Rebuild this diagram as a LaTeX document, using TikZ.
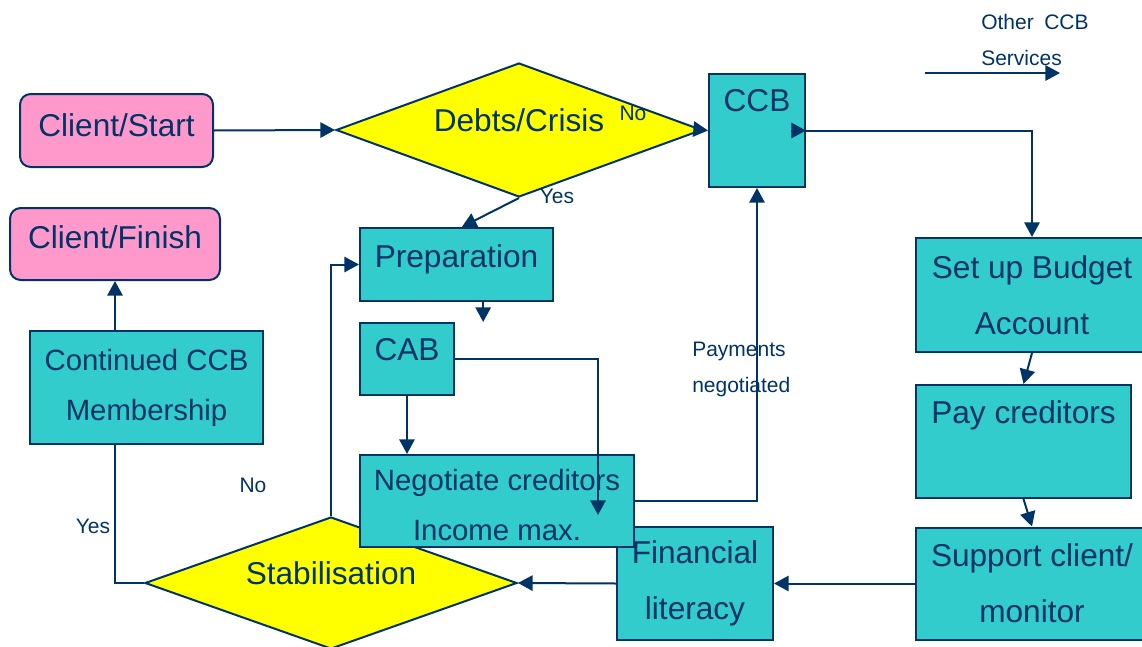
\documentclass[tikz,border=0pt]{standalone}
\usepackage{fontspec}
\setmainfont{Liberation Sans}
\usetikzlibrary{shapes.geometric, arrows.meta, positioning}
\definecolor{navy}{RGB}{0,51,102}
\definecolor{ccbteal}{RGB}{51,204,204}
\definecolor{ccbpink}{RGB}{255,153,204}
\definecolor{ccbyellow}{RGB}{255,255,0}
\newcommand{\bigtext}{\fontsize{23.7}{42}\selectfont}
\newcommand{\midtext}{\fontsize{22}{37.5}\selectfont}
\newcommand{\smalltext}{\fontsize{15.75}{27}\selectfont}
\tikzset{
  box/.style={rectangle, draw=navy, line width=1.5pt, fill=ccbteal,
              text=navy, font=\bigtext, align=center, inner sep=2pt},
  clientbox/.style={box, fill=ccbpink, rounded corners=8pt},
  decision/.style={diamond, draw=navy, line width=1.5pt, fill=ccbyellow,
                   text=navy, font=\bigtext, inner sep=0pt, text depth=15pt,
                   shape aspect=2.75},
  arrow/.style={-{Triangle[length=11pt,width=11.5pt]}, line width=1.5pt,
                draw=navy},
  link/.style={line width=1.5pt, draw=navy},
  note/.style={text=navy, font=\smalltext, inner sep=0pt, align=left},
}

\begin{document}
\begin{tikzpicture}[x=0.75pt, y=-0.75pt]
  \useasboundingbox (0,0) rectangle (1142,646);

  % Client ends
  \node[clientbox, minimum width=144.75pt, minimum height=54.75pt,
        text depth=8pt] (start) at (116.5,130.5) {Client/Start};
  \node[clientbox, minimum width=157.5pt, minimum height=54pt,
        text depth=10.5pt] (finish) at (115,244) {Client/Finish};
  \node[box, minimum width=174.75pt, minimum height=84.75pt,
        font=\midtext] (cont) at (146.5,387.5)
    {Continued CCB\\Membership};

  % Decisions
  \node[decision, minimum width=274.5pt, minimum height=100.5pt]
    (debts) at (519,130) {Debts/Crisis};
  \node[decision, minimum width=279pt, minimum height=99pt]
    (stab) at (331,583) {Stabilisation};

  % Middle column
  \node[box, minimum width=144.75pt, minimum height=54.75pt,
        text depth=12.8pt] (prep) at (456.5,264.5) {Preparation};
  \node[box, below=15pt of prep.south west, anchor=north west,
        minimum width=70.5pt, minimum height=54pt, text depth=15pt]
    (cab) {CAB};
  \node[box, minimum width=117pt, minimum height=84.75pt]
    (fin) at (695,583.5) {Financial\\literacy};
  \node[box, minimum width=205.5pt, minimum height=69pt,
        font=\midtext, text height=59.5pt] (nego) at (497,501)
    {Negotiate creditors\\Income max.};

  % CCB column
  \node[box, minimum width=72pt, minimum height=84.75pt, text depth=45pt]
    (ccb) at (757,130.5) {CCB};
  \node[box, minimum width=174pt, minimum height=85.5pt]
    (budget) at (1032,295) {Set up Budget\\Account};
  \node[box, below=23.25pt of budget.south west, anchor=north west,
        minimum width=161.25pt, minimum height=84.75pt, text depth=44pt]
    (pay) {Pay creditors};
  \node[box, minimum width=174pt, minimum height=84pt]
    (support) at (1032,583.5) {Support client/\\monitor};

  % Labels
  \node[note] (nodebt) at (633,113) {No};
  \node[note] (yesdebt) at (557,196) {Yes};
  \node[note] (nostab) at (253,485) {No};
  \node[note] (yesstab) at (93,526) {Yes};
  \node[note, anchor=west] (paid) at (692,369) {Payments\\negotiated};
  \node[note, anchor=west] (other) at (981,39.5) {Other\enspace CCB\\Services};

  \coordinate (negoin) at (598,515);
  \coordinate (osA) at (925,73);
  \coordinate (osB) at (1060,73);

  % Arrows
  \draw[arrow] (start.east) -- (debts.west);
  \draw[arrow] (debts.east) -- (ccb.west);
  \draw[arrow] (debts.south) -- ([xshift=4pt]prep.north);
  \draw[arrow] (ccb.east) -| (budget.north);
  \draw[arrow] ([xshift=-11pt]ccb.east) -- (ccb.east);
  \draw[arrow] (budget.south) -- (pay.north);
  \draw[arrow] (pay.south) -- (support.north);
  \draw[arrow] (support.west) -- (fin.east);
  \draw[arrow] (fin.west) -- (stab.east);
  \draw[link] (stab.west) -| (cont.south -| finish.south);
  \draw[arrow] (cont.north -| finish.south) -- (finish.south);
  \draw[arrow] (stab.north) |- (prep.west);
  \draw[arrow] ([xshift=20pt]prep.south) -- ([xshift=20pt]prep.south |- cab.north);
  \draw[arrow] (cab.south) -- (cab.south |- nego.north);
  \draw[arrow] (cab.east) -| (negoin);
  \draw[arrow] (nego.east) -| (ccb.south);
  \draw[arrow] (osA) -- (osB);
\end{tikzpicture}
\end{document}
